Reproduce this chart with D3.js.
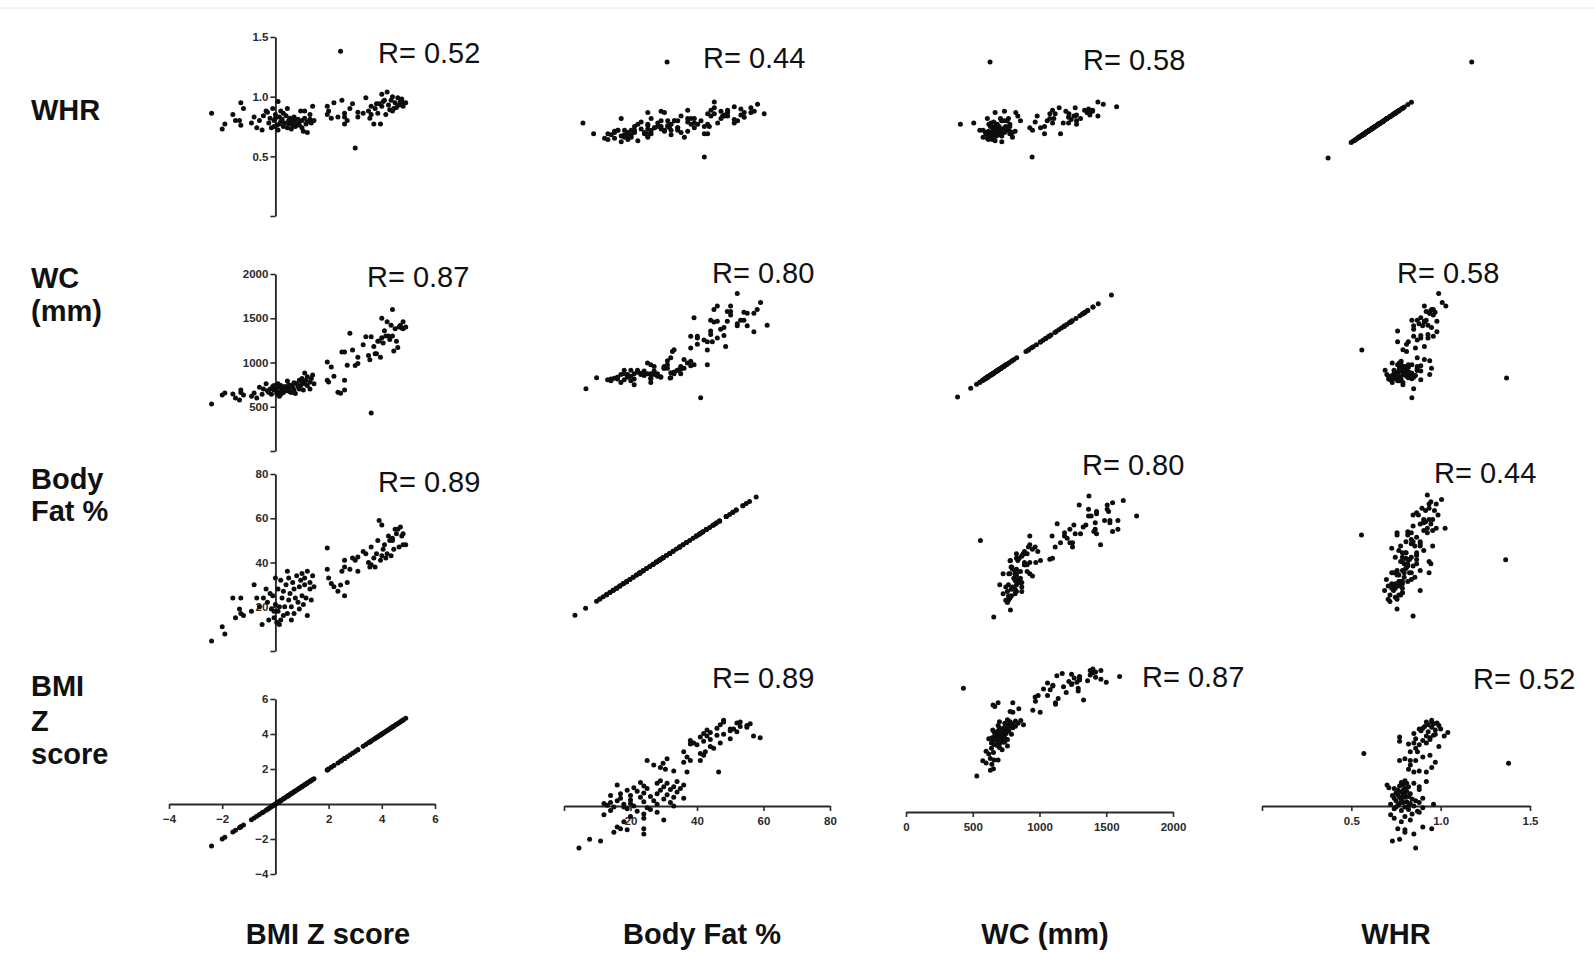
<!DOCTYPE html>
<html><head><meta charset="utf-8">
<script src="https://cdn.jsdelivr.net/npm/d3@7"></script>
<style>body{margin:0;background:#fff}svg{display:block}</style>
</head><body>
<svg id="chart" width="1594" height="953"></svg>
<script>
// ---------------- DATA ----------------
const columnNames = ["BMI Z score", "Body Fat %", "WC (mm)", "WHR"];
const rowNames = [["WHR"], ["WC", "(mm)"], ["Body", "Fat %"], ["BMI", "Z", "score"]];

const bmiZ = [-2.4,-2.0,-1.9,-1.6,-1.35,-1.3,-1.2,-1.3,-0.8,-0.7,
 -0.6,-0.45,-0.3,-0.25,-0.2,-0.15,-0.1,-0.05,0.0,0.05,
 0.1,0.1,0.15,0.2,0.2,0.25,0.3,0.3,0.35,0.4,
 0.45,0.5,0.5,0.55,0.6,0.65,0.7,0.7,0.75,0.8,
 0.85,0.9,0.9,0.95,1.0,1.0,1.05,1.1,1.1,1.15,
 1.2,1.2,1.3,1.3,1.35,1.4,1.45,-0.9,-0.5,-0.35,
 0.0,0.15,0.45,0.6,-1.5,-0.05,
 1.95,1.95,2.1,2.2,2.35,2.6,2.6,2.5,2.6,2.7,
 2.8,2.9,3.1,3.1,3.0,2.45,3.6,3.4,3.5,3.6,
 3.7,3.75,3.8,3.85,3.9,3.95,4.0,4.05,4.1,4.15,
 4.2,4.25,4.3,4.35,4.4,4.4,4.5,4.55,4.6,4.65,
 4.7,4.75,4.8,4.8,4.9,3.3,2.0,3.55,4.0,4.45];

const bodyFat = [4.5,11,7.7,24,19,24,16,17,30,24,
 20,24,22,14,26,19,25,15,21,13,
 28,18,20,14,32,24,16,27,20,30,
 17,33,23,26,20,31,17,28,24,34,
 22,29,19,32,25,35,21,30,33,24,
 16,36,28,31,23,34,29,18,12,28,
 33,12,36,14,15,18,
 46.5,37,30.5,29,27,25,41,36,38,31,
 37,42,42.5,36,41,29.8,39,44,40,47,
 42,38,44,50,59,41,43,46,48,42,
 44,52,50,43,51,50,55,53,55,47,
 56,52,53,48,48,45,33,38,57,46];

const waist = [530,632,655,643,575,690,632,660,655,600,
 720,700,680,660,700,640,730,690,705,650,
 760,670,720,640,740,690,700,660,730,710,
 680,750,700,670,740,720,690,770,650,760,
 730,800,700,740,780,820,690,880,760,800,
 740,840,780,700,820,860,760,620,640,760,
 700,620,790,660,600,740,
 1005,800,950,845,665,690,800,1120,1120,970,
 1330,1140,1060,990,967,652,430,1290,1080,1290,
 1180,1100,1100,1240,1243,1060,1280,1220,1360,1300,
 1460,1300,1260,1420,1300,1600,1380,1240,1170,1400,
 1420,1390,1380,1460,1400,1200,780,1030,1500,1130];

const whr = [0.86,0.73,0.77,0.85,0.80,0.95,0.90,0.76,0.83,0.74,
 0.80,0.84,0.87,0.78,0.82,0.74,0.90,0.80,0.85,0.76,
 0.96,0.72,0.83,0.79,0.88,0.81,0.75,0.86,0.78,0.84,
 0.74,0.80,0.77,0.82,0.79,0.76,0.80,0.83,0.75,0.78,
 0.81,0.79,0.76,0.88,0.80,0.74,0.71,0.88,0.82,0.77,
 0.70,0.79,0.81,0.85,0.78,0.92,0.80,0.78,0.72,0.88,
 0.82,0.77,0.90,0.73,0.80,0.75,
 0.92,0.85,0.82,0.95,0.83,0.77,0.83,0.97,0.86,0.80,
 0.90,0.94,0.83,0.87,0.57,1.38,0.85,0.99,0.88,0.92,
 0.77,0.90,0.94,0.86,0.94,0.77,0.92,0.96,0.97,0.85,
 1.04,0.93,0.89,0.97,0.88,1.00,0.95,0.91,0.99,0.93,
 0.96,0.98,0.95,0.92,0.95,0.86,0.88,0.82,1.02,0.90];

// correlation labels [row][col]; rows: WHR, WC, Body Fat, BMI Z ; cols: BMI Z, Body Fat, WC, WHR
const rLabels = [
  ["R= 0.52", "R= 0.44", "R= 0.58", ""],
  ["R= 0.87", "R= 0.80", "", "R= 0.58"],
  ["R= 0.89", "", "R= 0.80", "R= 0.44"],
  ["", "R= 0.89", "R= 0.87", "R= 0.52"]
];

const bmiTicks = [-4, -2, 0, 2, 4, 6];
const fatTicks = [0, 20, 40, 60, 80];
const wcTicks = [0, 500, 1000, 1500, 2000];
const whrTicks = [0, 0.5, 1.0, 1.5];

// ---------------- SETUP ----------------
const vars = {
  bmi: {values: bmiZ, domain: [-4, 6], ticks: bmiTicks, fmt: d3.format("d"), hideZeroX: true, hideZeroY: true},
  fat: {values: bodyFat, domain: [0, 80], ticks: fatTicks, fmt: d3.format("d"), hideZeroX: true, hideZeroY: true},
  wc:  {values: waist, domain: [0, 2000], ticks: wcTicks, fmt: d3.format("d"), hideZeroX: false, hideZeroY: true},
  whr: {values: whr, domain: [0, 1.5], ticks: whrTicks, fmt: d3.format(".1f"), hideZeroX: true, hideZeroY: true}
};
const colVars = ["bmi", "fat", "wc", "whr"];
const rowVars = ["whr", "wc", "fat", "bmi"];

// layout: pixel ranges per panel (for the variable domains above)
const xRanges = [
  [[169, 435], [568, 834], [903, 1170], [1227, 1493]],
  [[169, 435], [571, 837], [901, 1164], [1260, 1528]],
  [[169, 435], [560, 826], [923, 1190], [1260, 1527]],
  [[169, 435], [564, 830], [906, 1173], [1262, 1530]]
];
const yRanges = [
  [[216, 37], [224, 48], [224, 48], [225.5, 47.7]],
  [[451, 274], [436, 258], [434.5, 260], [436, 258]],
  [[651, 474], [625, 451.5], [627, 449.4], [626, 448.4]],
  [[874, 699], [876, 701], [799.5, 653], [876, 701]]
];
const bottomAxisY = [804, 806, 812, 806];
const rPos = [
  [[378, 63], [703, 68], [1083, 70], null],
  [[367, 287], [712, 283], null, [1397, 283]],
  [[378, 492], null, [1082, 475], [1434, 483]],
  [null, [712, 688], [1142, 687], [1473, 689]]
];
const rowLabelPos = [[120], [288, 321], [489, 521], [696, 731, 764]];
const colLabelX = [328, 702, 1045, 1396];

const svg = d3.select("#chart");
const FONT = "'Liberation Sans', Arial, Helvetica, sans-serif";

svg.append("line").attr("x1", 0).attr("x2", 1594).attr("y1", 8).attr("y2", 8)
  .attr("stroke", "#e6e6e6").attr("stroke-width", 1);

function styleAxis(g) {
  g.select(".domain").attr("stroke", "#2a2a2a").attr("stroke-width", 1.9);
  g.selectAll(".tick line").attr("stroke", "#2a2a2a").attr("stroke-width", 1.6);
  g.selectAll(".tick text").attr("fill", "#2a2a2a").style("font-family", FONT)
    .style("font-size", "11.5px").style("font-weight", "bold");
}

for (let r = 0; r < 4; r++) {
  for (let c = 0; c < 4; c++) {
    const xv = vars[colVars[c]], yv = vars[rowVars[r]];
    const x = d3.scaleLinear().domain(xv.domain).range(xRanges[r][c]);
    const y = d3.scaleLinear().domain(yv.domain).range(yRanges[r][c]);
    const g = svg.append("g");

    // axes
    if (c === 0) {
      const ax = d3.axisLeft(y).tickValues(yv.ticks).tickSize(5).tickSizeOuter(0).tickPadding(2)
        .tickFormat(v => (v === 0 && yv.hideZeroY) ? "" : yv.fmt(v));
      const ga = g.append("g").attr("transform", `translate(${x(0)},0)`).call(ax);
      styleAxis(ga);
    }
    if (r === 3) {
      const ay = (c === 0) ? y(0) : bottomAxisY[c];
      const ax = d3.axisBottom(x).tickValues(xv.ticks).tickSize(5).tickSizeOuter(0).tickPadding(6)
        .tickFormat(v => (v === 0 && xv.hideZeroX) ? "" : xv.fmt(v));
      const ga = g.append("g").attr("transform", `translate(0,${ay})`).call(ax);
      styleAxis(ga);
    }

    // points
    const pts = d3.range(xv.values.length).map(i => [xv.values[i], yv.values[i]]);
    g.selectAll("circle").data(pts).join("circle")
      .attr("cx", d => x(d[0])).attr("cy", d => y(d[1]))
      .attr("r", 2.5).attr("fill", "#0d0d0d");

    // R label
    if (rLabels[r][c] && rPos[r][c]) {
      g.append("text").attr("x", rPos[r][c][0]).attr("y", rPos[r][c][1])
        .style("font-family", FONT).style("font-size", "29px").attr("fill", "#111")
        .text(rLabels[r][c]);
    }
  }
}

// row labels
rowNames.forEach((lines, r) => {
  lines.forEach((t, k) => {
    svg.append("text").attr("x", 31).attr("y", rowLabelPos[r][k])
      .style("font-family", FONT).style("font-size", "29px").style("font-weight", "bold")
      .attr("fill", "#111").text(t);
  });
});
// column labels
columnNames.forEach((t, c) => {
  svg.append("text").attr("x", colLabelX[c]).attr("y", 944).attr("text-anchor", "middle")
    .style("font-family", FONT).style("font-size", "29px").style("font-weight", "bold")
    .attr("fill", "#111").text(t);
});
</script>
</body></html>
